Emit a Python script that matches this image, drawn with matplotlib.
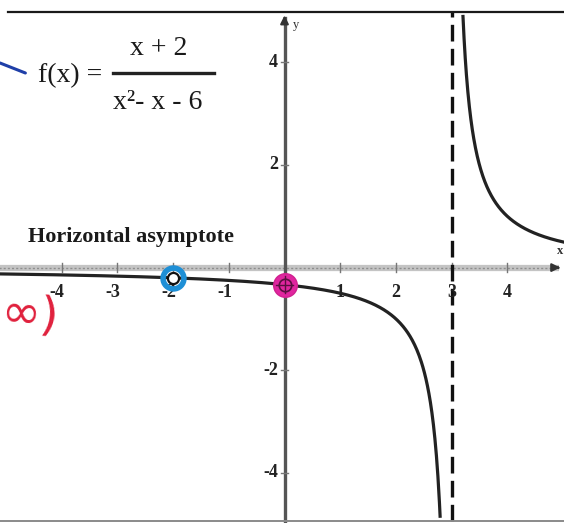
import numpy as np
import matplotlib
matplotlib.use("Agg")
import matplotlib.pyplot as plt
from matplotlib.lines import Line2D

# f(x) = (x + 2) / (x^2 - x - 6) = 1 / (x - 3), with a hole at x = -2
x_ticks = [-4, -3, -2, -1, 1, 2, 3, 4]
y_ticks = [-4, -2, 2, 4]
vertical_asymptote = 3
horizontal_asymptote = 0
hole_x = -2
y_intercept_x = 0

def f(x):
    return (x + 2) / (x**2 - x - 6)

SERIF = ["Liberation Serif", "DejaVu Serif"]

fig = plt.figure(figsize=(5.64, 5.23), dpi=100)
ax = fig.add_axes([0, 0, 1, 1])
ax.set_xlim(-5.108, 5.018)
ax.set_ylim(-4.979, 5.216)
ax.axis("off")

top_y = 4.99
bot_y = -4.94

# frame lines
ax.plot([-4.96, 5.1], [top_y, top_y], color="#1a1a1a", lw=1.6, zorder=3, clip_on=False)
ax.plot([-5.2, 5.1], [bot_y, bot_y], color="#8a8a8a", lw=1.4, zorder=3, clip_on=False)

# x-axis drawn as the horizontal asymptote band
ax.plot([-5.2, 4.93], [horizontal_asymptote] * 2, color="#c4c4c4", lw=4.5, zorder=1,
        solid_capstyle="butt")
ax.plot([-5.2, 4.93], [horizontal_asymptote] * 2, color="#8e8e8e", lw=1.0, zorder=1,
        ls=(0, (1.5, 1.5)))
ax.annotate("", xy=(5.0, 0), xytext=(4.85, 0),
            arrowprops=dict(arrowstyle="-|>", color="#333333", lw=1.5,
                            mutation_scale=12), zorder=2)

# y-axis
ax.plot([0, 0], [bot_y - 0.2, top_y - 0.12], color="#555555", lw=2.4, zorder=2)
ax.annotate("", xy=(0, top_y - 0.02), xytext=(0, top_y - 0.3),
            arrowprops=dict(arrowstyle="-|>", color="#333333", lw=1.5,
                            mutation_scale=12), zorder=2)

# tick marks
for t in x_ticks:
    ax.plot([t, t], [-0.09, 0.09], color="#777777", lw=1.0, zorder=2)
for t in y_ticks:
    ax.plot([-0.06, 0.06], [t, t], color="#777777", lw=1.0, zorder=3)

# tick labels
for t in x_ticks:
    ax.text(t - 0.08 if t < 0 else t, -0.48, str(t), ha="center", va="center",
            fontsize=13, family=SERIF, fontweight="bold", color="#222222")
for t in y_ticks:
    ax.text(-0.12, t, str(t), ha="right", va="center",
            fontsize=13, family=SERIF, fontweight="bold", color="#222222")
ax.text(0.2, 4.72, "y", fontsize=9, family=SERIF, color="#333333", ha="center", va="center")
ax.text(4.95, 0.33, "x", fontsize=9, family=SERIF, fontweight="bold", color="#333333",
        ha="center", va="center")

# vertical asymptote
ax.plot([vertical_asymptote] * 2, [bot_y, top_y], color="#111111", lw=2.4,
        ls=(0, (5, 2.2)), zorder=2)

# curve branches
xl = np.linspace(-5.3, 2.795, 600)
xr = np.linspace(3.203, 5.3, 400)
ax.plot(xl, f(xl), color="#222222", lw=2.3, zorder=4, solid_capstyle="butt")
ax.plot(xr, f(xr), color="#222222", lw=2.3, zorder=4, solid_capstyle="butt")

# hole at x = -2 (blue ring) and y-intercept (magenta)
hy = 1 / (hole_x - 3)
ax.plot(hole_x, hy, "o", ms=15, mfc="none", mec="#1e8fd6", mew=4, zorder=5)
ax.plot(hole_x, hy, "o", ms=8, mfc="white", mec="#111111", mew=1.6, zorder=6)
yi = f(y_intercept_x)
ax.plot(y_intercept_x, yi, "o", ms=17, mfc="#e0259f", mec="#d0208f", mew=1, zorder=5)
ax.plot(y_intercept_x, yi, "o", ms=9, mfc="none", mec="#5a1040", mew=1.2, zorder=6)
ax.plot([y_intercept_x - 0.15, y_intercept_x + 0.15], [yi, yi], color="#5a1040", lw=1, zorder=6)
ax.plot([y_intercept_x, y_intercept_x], [yi - 0.17, yi + 0.17], color="#5a1040", lw=1, zorder=6)

# labels
ax.text(-4.6, 0.6, "Horizontal asymptote", fontsize=16, family=SERIF,
        fontweight="bold", color="#1a1a1a", ha="left", va="center")

ax.text(-4.43, 3.74, "f(x) =", fontsize=20, family=SERIF, color="#1a1a1a",
        ha="left", va="center")
ax.text(-2.25, 4.27, "x + 2", fontsize=20, family=SERIF, color="#1a1a1a",
        ha="center", va="center")
ax.plot([-3.08, -1.26], [3.8, 3.8], color="#222222", lw=2.4)
ax.text(-2.27, 3.22, "x\u00b2- x - 6", fontsize=20, family=SERIF, color="#1a1a1a",
        ha="center", va="center")

# pen marks in the margin
fig.add_artist(Line2D([0.0, 0.045], [1 - 63 / 523, 1 - 73 / 523], color="#1f3fa8",
                      lw=2.2, solid_capstyle="round"))
fig.text(0.0, 1 - 316 / 523, "\u221e)", fontsize=34, color="#e0203c",
         family=["DejaVu Sans"], ha="left", va="center", rotation=-5)

fig.savefig("out.png", dpi=100)
